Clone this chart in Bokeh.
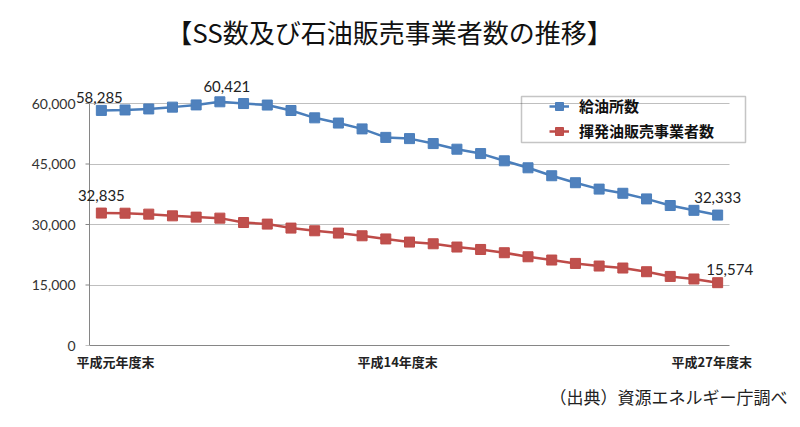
from bokeh.plotting import figure
from bokeh.models import (ColumnDataSource, FixedTicker, Legend, LegendItem, Label, Title,
                          BoxAnnotation, Range1d, NumeralTickFormatter)
from bokeh.core.properties import value
from bokeh.embed import file_html
from bokeh.resources import INLINE

# ---------------- data ----------------
years = ["平成元年度末"] + [f"平成{i}年度末" for i in range(2, 28)]
ss_count = [58285, 58400, 58650, 59100, 59650, 60421, 59990, 59615, 58263, 56444,
            55153, 53704, 51600, 51294, 50067, 48672, 47584, 45792, 44057, 42090,
            40357, 38777, 37743, 36349, 34706, 33510, 32333]
dealer_count = [32835, 32800, 32570, 32150, 31830, 31580, 30490, 30100, 29110, 28440,
                27870, 27200, 26420, 25640, 25220, 24410, 23810, 23000, 22000, 21190,
                20350, 19700, 19210, 18290, 17130, 16490, 15574]
y_ticks = [0, 15000, 30000, 45000, 60000]
shown_year_labels = ["平成元年度末", "平成14年度末", "平成27年度末"]
title_text = "【SS数及び石油販売事業者数の推移】"
source_text = "（出典）資源エネルギー庁調べ"
series_names = ["給油所数", "揮発油販売事業者数"]

BLUE_LINE, BLUE_FILL = "#4A7EBB", "#4F81BD"
RED_LINE, RED_FILL = "#BE4B48", "#C0504D"
AXIS_GRAY = "#868686"
CJK = "Noto Sans CJK JP"

# ---------------- layout (pixels) ----------------
W, H = 800, 427
FRAME_L, FRAME_R, FRAME_T, FRAME_B = 68, 790, 0, 345
PLOT_L, PLOT_R, Y_TOP_PX = 89, 729, 103          # axis box of the chart
n = len(years)
PX = (PLOT_R - PLOT_L) / n                       # pixels per category
PY = (FRAME_B - Y_TOP_PX) / y_ticks[-1]          # pixels per unit
x0 = -0.5 - (PLOT_L - FRAME_L) / PX
x1 = n - 0.5 + (FRAME_R - PLOT_R) / PX
y1 = (FRAME_B - FRAME_T) / PY

x = list(range(n))

p = figure(width=W, height=H, x_range=Range1d(x0, x1), y_range=Range1d(0, y1),
           output_backend="svg", toolbar_location=None,
           min_border_left=FRAME_L, min_border_right=W - FRAME_R,
           min_border_top=FRAME_T, min_border_bottom=H - FRAME_B)
p.outline_line_color = None
p.background_fill_color = "white"
p.border_fill_color = "white"

# y axis: labels only (line + ticks drawn at the chart's own left edge)
p.yaxis.ticker = FixedTicker(ticks=y_ticks)
p.yaxis.formatter = NumeralTickFormatter(format="0,0")
p.yaxis.axis_line_color = None
p.yaxis.major_tick_line_color = None
p.yaxis.minor_tick_line_color = None
p.yaxis.major_tick_out = 0
p.yaxis.major_tick_in = 0
p.yaxis.major_label_text_font = "Lato"
p.yaxis.major_label_text_font_size = "14px"
p.yaxis.major_label_text_color = "#333333"
p.yaxis.major_label_standoff = -(75 - FRAME_L)

# x axis
idx_of = [years.index(s) for s in shown_year_labels]
label_shift = [0.6, -0.5, -0.25]
tick_pos = [i + d for i, d in zip(idx_of, label_shift)]
p.xaxis.ticker = FixedTicker(ticks=tick_pos)
p.xaxis.major_label_overrides = {t: s for t, s in zip(tick_pos, shown_year_labels)}
p.xaxis.bounds = (-0.5, n - 0.5)
p.xaxis.axis_line_color = AXIS_GRAY
p.xaxis.major_tick_line_color = None
p.xaxis.minor_tick_line_color = None
p.xaxis.major_tick_out = 0
p.xaxis.major_tick_in = 0
p.xaxis.major_label_text_font = CJK
p.xaxis.major_label_text_font_size = "13px"
p.xaxis.major_label_text_font_style = "bold"
p.xaxis.major_label_text_color = "#222222"
p.xaxis.major_label_standoff = 6

p.xgrid.grid_line_color = None
grid = p.ygrid[0]
grid.ticker = FixedTicker(ticks=y_ticks)
grid.grid_line_color = "#BFBFBF"
if "cross_bounds" in grid.properties():
    grid.cross_bounds = (-0.5, n - 0.5)
else:
    grid.grid_line_color = None
    p.segment(x0=[-0.5] * len(y_ticks), x1=[n - 0.5] * len(y_ticks), y0=y_ticks, y1=y_ticks,
              line_color="#BFBFBF", line_width=1)

# vertical axis line and outer tick marks of the chart
tick_len = 4 / PX
p.segment(x0=[-0.5], y0=[0], x1=[-0.5], y1=[y_ticks[-1]], line_color=AXIS_GRAY, line_width=1)
p.segment(x0=[-0.5 - tick_len] * len(y_ticks), x1=[-0.5] * len(y_ticks), y0=y_ticks, y1=y_ticks,
          line_color=AXIS_GRAY, line_width=1)

src = ColumnDataSource(dict(x=x, ss=ss_count, dealer=dealer_count))
r1 = p.line("x", "ss", source=src, line_color=BLUE_LINE, line_width=2.5)
s1 = p.scatter("x", "ss", source=src, marker="square", size=10,
               fill_color=BLUE_FILL, line_color=BLUE_LINE)
r2 = p.line("x", "dealer", source=src, line_color=RED_LINE, line_width=2.5)
s2 = p.scatter("x", "dealer", source=src, marker="square", size=10,
               fill_color=RED_FILL, line_color=RED_LINE)

# data labels
lab_pts = [(ss_count, 0), (ss_count, 5), (dealer_count, 0), (ss_count, 26), (dealer_count, 26)]
lab_dx = [-2, 7, 0, 0, 12]
lab_dy = [-13, -15, -18, -18, -13]
lab_src = ColumnDataSource(dict(
    x=[i for _, i in lab_pts],
    y=[s[i] for s, i in lab_pts],
    text=[f"{s[i]:,}" for s, i in lab_pts],
    dx=lab_dx, dy=lab_dy))
p.text("x", "y", text="text", source=lab_src, x_offset="dx", y_offset="dy",
       text_font=value("Lato"), text_font_size="15px", text_color="#222222",
       text_align="center", text_baseline="alphabetic")

# legend
legend = Legend(items=[LegendItem(label=series_names[0], renderers=[r1, s1]),
                       LegendItem(label=series_names[1], renderers=[r2, s2])],
                location=(549 - FRAME_L, FRAME_B - 141), border_line_alpha=0,
                background_fill_alpha=0, padding=0, spacing=4, margin=0,
                glyph_width=20, glyph_height=20, label_height=20, label_standoff=10,
                label_text_font=CJK, label_text_font_size="15px",
                label_text_font_style="bold", label_text_color="#111111")
p.add_layout(legend)
p.add_layout(BoxAnnotation(left=521 - FRAME_L, right=745 - FRAME_L,
                           bottom=FRAME_B - 142, top=FRAME_B - 96,
                           left_units="screen", right_units="screen",
                           bottom_units="screen", top_units="screen",
                           fill_alpha=0, line_color="#404040", line_width=1.5))

# title
p.add_layout(Label(x=389 - FRAME_L, y=FRAME_B - 31, x_units="screen", y_units="screen",
                   text=title_text, text_align="center", text_baseline="middle",
                   text_font=CJK, text_font_size="26px", text_color="#111111"))
# source note below the chart
p.add_layout(Title(text=source_text, align="right", vertical_align="top", offset=3,
                   standoff=20, text_font=CJK, text_font_size="17px",
                   text_font_style="normal", text_color="#222222"), "below")

open("out.html", "w").write(file_html(p, INLINE))
